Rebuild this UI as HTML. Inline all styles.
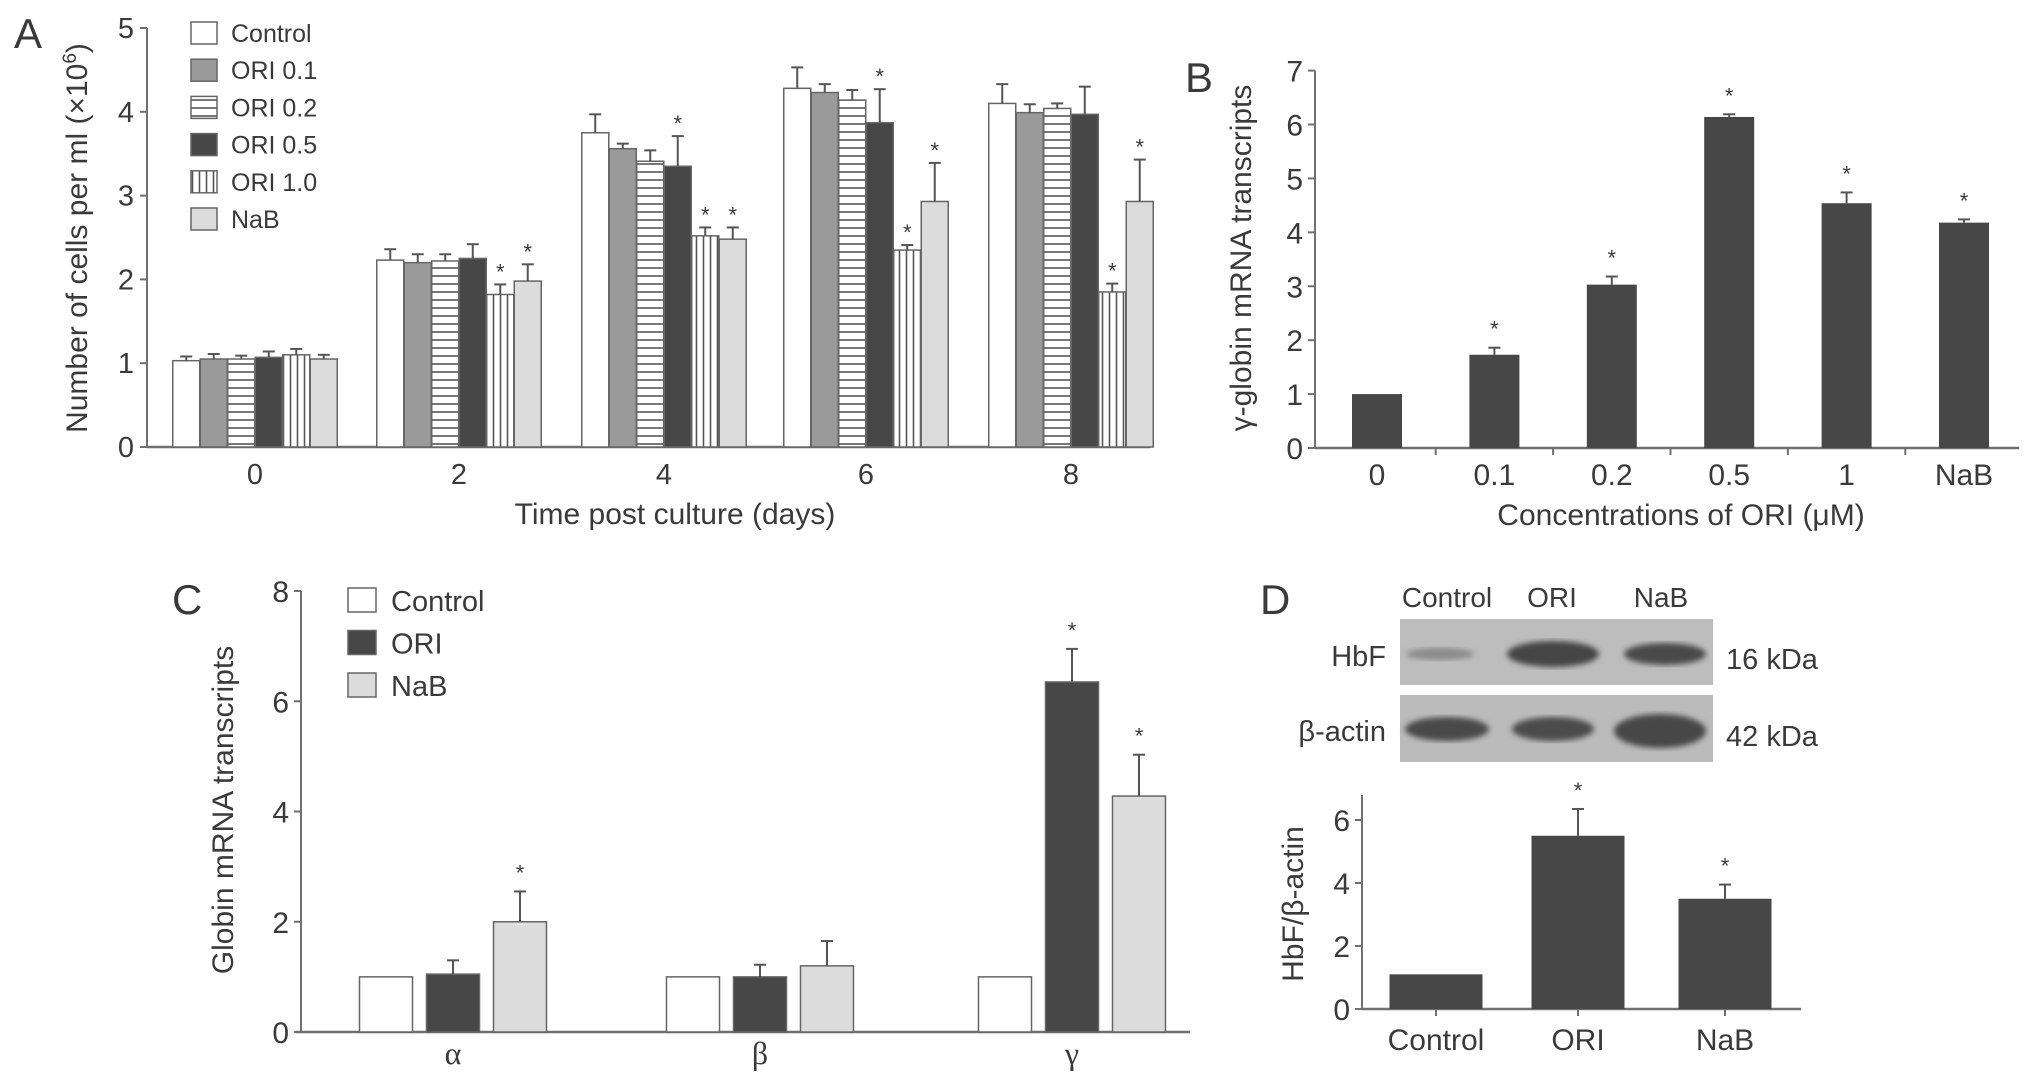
<!DOCTYPE html>
<html><head><meta charset="utf-8"><style>
html,body{margin:0;padding:0;background:#fff;}
svg{display:block;font-family:"Liberation Sans",sans-serif;}
text{fill:#3a3a3a;}
</style></head><body>
<svg id="fig" width="2032" height="1083" viewBox="0 0 2032 1083" xmlns="http://www.w3.org/2000/svg">
<defs>
<pattern id="hstripe" width="8" height="8" patternUnits="userSpaceOnUse"><rect width="8" height="8" fill="#fff"/><line x1="0" y1="4" x2="8" y2="4" stroke="#555" stroke-width="1.6"/></pattern>
<pattern id="vstripe" width="7" height="8" patternUnits="userSpaceOnUse"><rect width="7" height="8" fill="#fff"/><line x1="3.5" y1="0" x2="3.5" y2="8" stroke="#555" stroke-width="1.6"/></pattern>
<filter id="blur3"><feGaussianBlur stdDeviation="3"/></filter>
</defs>
<g id="layer"></g>
</svg>
<script>
// Panel A data
const aCategories = ["0","2","4","6","8"];
const aSeries = ["Control","ORI 0.1","ORI 0.2","ORI 0.5","ORI 1.0","NaB"];
const aValues = [
 [1.03,2.23,3.75,4.28,4.10],
 [1.05,2.20,3.56,4.23,3.99],
 [1.05,2.22,3.41,4.14,4.04],
 [1.07,2.25,3.35,3.87,3.97],
 [1.10,1.82,2.52,2.35,1.85],
 [1.05,1.98,2.48,2.93,2.93]];
const aErrors = [
 [0.05,0.13,0.22,0.25,0.23],
 [0.06,0.10,0.06,0.10,0.10],
 [0.04,0.08,0.13,0.12,0.06],
 [0.07,0.17,0.36,0.40,0.33],
 [0.07,0.12,0.10,0.06,0.10],
 [0.05,0.20,0.14,0.46,0.50]];
const aStars = [
 [0,0,0,0,0],[0,0,0,0,0],[0,0,0,0,0],[0,0,1,1,0],[0,1,1,1,1],[0,1,1,1,1]];
const aTicks = [0,1,2,3,4,5];
// Panel B data
const bCategories = ["0","0.1","0.2","0.5","1","NaB"];
const bValues = [1.0,1.73,3.03,6.14,4.54,4.18];
const bErrors = [0,0.13,0.15,0.05,0.2,0.06];
const bStars = [0,1,1,1,1,1];
const bTicks = [0,1,2,3,4,5,6,7];
// Panel C data
const cCategories = ["α","β","γ"];
const cSeries = ["Control","ORI","NaB"];
const cValues = [[1,1,1],[1.05,1.0,6.35],[2.0,1.2,4.28]];
const cErrors = [[0,0,0],[0.25,0.22,0.6],[0.55,0.45,0.75]];
const cStars = [[0,0,0],[0,0,1],[1,0,1]];
const cTicks = [0,2,4,6,8];
// Panel D data
const dCategories = ["Control","ORI","NaB"];
const dValues = [1.1,5.5,3.5];
const dErrors = [0,0.85,0.45];
const dStars = [0,1,1];
const dTicks = [0,2,4,6];

const NS="http://www.w3.org/2000/svg";
const layer=document.getElementById('layer');
function mk(tag,attrs,parent,txt){const e=document.createElementNS(NS,tag);for(const k in attrs)e.setAttribute(k,attrs[k]);if(txt!==undefined)e.textContent=txt;(parent||layer).appendChild(e);return e;}
const AX="#707070";
function errBar(g,cx,yTop,yErr,cap){
 const l=mk('line',{x1:cx,y1:yTop,x2:cx,y2:yErr,stroke:'#555','stroke-width':2},g);
 
 
 const c=mk('line',{x1:cx-cap,y1:yErr,x2:cx+cap,y2:yErr,stroke:'#555','stroke-width':2},g);
 
 
}
function star(g,cx,y){const s=mk('text',{x:cx,y:y,'font-size':22,'text-anchor':'middle'},g,'*');
 
 }

// ---------- Panel A ----------
(function(){
 const g=mk('g',{});
 const x0=147,y0=447,yTop=28,ppu=(y0-yTop)/5;
 const ys=v=>y0-v*ppu;
 const centers=[255,459,664,866,1071];
 const bw=27, stride=27.5;
 const fills=['#fff','#9a9a9a','url(#hstripe)','#474747','url(#vstripe)','#dcdcdc'];
 mk('text',{x:14,y:48,'font-size':42},g,'A');
 mk('line',{x1:x0,y1:yTop,x2:x0,y2:y0,stroke:AX,'stroke-width':2},g);
 mk('line',{x1:x0,y1:y0,x2:1150,y2:y0,stroke:AX,'stroke-width':2.5},g);
 aTicks.forEach(t=>{const y=ys(t);mk('line',{x1:x0-7,y1:y,x2:x0,y2:y,stroke:AX,'stroke-width':2},g);
  const tl=mk('text',{x:x0-13,y:y+10,'font-size':29,'text-anchor':'end'},g,String(t));
  });
 aCategories.forEach((c,i)=>{
  const tl=mk('text',{x:centers[i],y:484,'font-size':29,'text-anchor':'middle'},g,c);
  
  aSeries.forEach((s,j)=>{
   const bx=centers[i]+(j-2.5)*stride-bw/2;const v=aValues[j][i];
   const r=mk('rect',{x:bx,y:ys(v),width:bw,height:y0-ys(v),fill:fills[j],stroke:'#666','stroke-width':1.5},g);
   
   
   const ye=ys(v+aErrors[j][i]);errBar(g,bx+bw/2,ys(v),ye,6);
   if(aStars[j][i])star(g,bx+bw/2,ye-5);
  });
 });
 mk('text',{x:675,y:524,'font-size':30,'text-anchor':'middle'},g,'Time post culture (days)');
 const yt=mk('text',{x:0,y:0,'font-size':30,'text-anchor':'middle',transform:'translate(87,238) rotate(-90)'},g);
 
 yt.innerHTML='Number of cells per ml (×10<tspan font-size="19" dy="-11">6</tspan><tspan dy="11">)</tspan>';
 aSeries.forEach((s,j)=>{const y=33+j*37.2;
  const b=mk('rect',{x:191,y:y-11,width:26,height:22,fill:fills[j],stroke:'#666','stroke-width':1.5},g);
  
  const t=mk('text',{x:231,y:y+9,'font-size':25},g,s);
  });
})();

// ---------- Panel B ----------
(function(){
 const g=mk('g',{});
 const x0=1315,y0=448,yTop=70.6,ppu=(y0-yTop)/7;const ys=v=>y0-v*ppu;
 const c0=1377,step=117.4,bw=50;
 mk('text',{x:1185,y:92,'font-size':42},g,'B');
 mk('line',{x1:x0,y1:yTop,x2:x0,y2:y0,stroke:AX,'stroke-width':2},g);
 mk('line',{x1:x0,y1:y0,x2:2019,y2:y0,stroke:AX,'stroke-width':2.5},g);
 bTicks.forEach(t=>{const y=ys(t);mk('line',{x1:x0-7,y1:y,x2:x0,y2:y,stroke:AX,'stroke-width':2},g);
  const tl=mk('text',{x:x0-12,y:y+11,'font-size':30,'text-anchor':'end'},g,String(t));
  });
 bCategories.forEach((c,i)=>{const cx=c0+i*step;
  if(i>0)mk('line',{x1:cx-step/2,y1:y0,x2:cx-step/2,y2:y0+7,stroke:AX,'stroke-width':2},g);
  const tl=mk('text',{x:cx,y:485,'font-size':30,'text-anchor':'middle'},g,c);
  
  const v=bValues[i];
  const r=mk('rect',{x:cx-bw/2,y:ys(v),width:bw,height:y0-ys(v),fill:'#474747'},g);
  
  if(bErrors[i]>0){const ye=ys(v+bErrors[i]);errBar(g,cx,ys(v),ye,6);}
  if(bStars[i])star(g,cx,ys(v+bErrors[i])-11);
 });
 mk('text',{x:1681,y:525,'font-size':30,'text-anchor':'middle'},g,'Concentrations of ORI (μM)');
 mk('text',{x:0,y:0,'font-size':30,'text-anchor':'middle',transform:'translate(1251,258) rotate(-90)'},g,'γ-globin mRNA transcripts');
})();

// ---------- Panel C ----------
(function(){
 const g=mk('g',{});
 const x0=301,y0=1032,yTop=591,ppu=(y0-yTop)/8;const ys=v=>y0-v*ppu;
 const centers=[453,760,1072],bw=53,stride=67;
 const fills=['#fff','#474747','#dcdcdc'];
 mk('text',{x:172,y:614,'font-size':42},g,'C');
 mk('line',{x1:x0,y1:yTop,x2:x0,y2:y0,stroke:AX,'stroke-width':2},g);
 mk('line',{x1:x0-5,y1:y0,x2:1190,y2:y0,stroke:AX,'stroke-width':2.5},g);
 cTicks.forEach(t=>{const y=ys(t);mk('line',{x1:x0-7,y1:y,x2:x0,y2:y,stroke:AX,'stroke-width':2},g);
  const tl=mk('text',{x:x0-12,y:y+11,'font-size':30,'text-anchor':'end'},g,String(t));
  });
 cCategories.forEach((c,i)=>{
  const tl=mk('text',{x:centers[i],y:1064,'font-size':32,'text-anchor':'middle','font-family':'"Liberation Serif",serif'},g,c);
  
  cSeries.forEach((s,j)=>{const cx=centers[i]+(j-1)*stride;const v=cValues[j][i];
   const r=mk('rect',{x:cx-bw/2,y:ys(v),width:bw,height:y0-ys(v),fill:fills[j],stroke:'#666','stroke-width':1.5},g);
   
   if(cErrors[j][i]>0){const ye=ys(v+cErrors[j][i]);errBar(g,cx,ys(v),ye,6);}
   if(cStars[j][i])star(g,cx,ys(v+cErrors[j][i])-11);
  });
 });
 cSeries.forEach((s,j)=>{const y=600+j*42.5;
  const b=mk('rect',{x:348,y:y-12,width:28,height:24,fill:fills[j],stroke:'#666','stroke-width':1.5},g);
  
  const t=mk('text',{x:391,y:y+11,'font-size':29},g,s);
  });
 mk('text',{x:0,y:0,'font-size':30,'text-anchor':'middle',transform:'translate(233,810) rotate(-90)'},g,'Globin mRNA transcripts');
})();

// ---------- Panel D ----------
(function(){
 const g=mk('g',{});
 mk('text',{x:1260,y:614,'font-size':42},g,'D');
 [['Control',1447],['ORI',1552],['NaB',1661]].forEach(a=>{const t=mk('text',{x:a[1],y:607,'font-size':28,'text-anchor':'middle'},g,a[0]);
  });
 const b1=mk('rect',{x:1400,y:619,width:313,height:66,fill:'#bdbdbd'},g);
 const b2=mk('rect',{x:1400,y:695,width:313,height:67,fill:'#bbbbbb'},g);
 const bands=[[1440,654,34,6,'#8a8a8a'],[1553,654,46,13,'#454545'],[1665,654,41,11,'#4a4a4a'],
  [1447,729,42,12,'#4a4a4a'],[1553,729,41,12,'#4c4c4c'],[1660,731,46,17,'#474747']];
 bands.forEach(b=>{const e=mk('ellipse',{cx:b[0],cy:b[1],rx:b[2],ry:b[3],fill:b[4],filter:'url(#blur3)'},g);
  });
 mk('text',{x:1386,y:666,'font-size':29,'text-anchor':'end'},g,'HbF');
 mk('text',{x:1386,y:741,'font-size':29,'text-anchor':'end'},g,'β-actin');
 mk('text',{x:1726,y:669,'font-size':29},g,'16 kDa');
 mk('text',{x:1726,y:746,'font-size':29},g,'42 kDa');
 const x0=1362,y0=1009,ppu=(1009-820)/6;const ys=v=>y0-v*ppu;
 const centers=[1436,1578,1725],bw=93;
 mk('line',{x1:x0,y1:795,x2:x0,y2:y0,stroke:AX,'stroke-width':2},g);
 mk('line',{x1:x0,y1:y0,x2:1801,y2:y0,stroke:AX,'stroke-width':2.5},g);
 dTicks.forEach(t=>{const y=ys(t);mk('line',{x1:x0-7,y1:y,x2:x0,y2:y,stroke:AX,'stroke-width':2},g);
  const tl=mk('text',{x:x0-12,y:y+11,'font-size':30,'text-anchor':'end'},g,String(t));
  });
 dCategories.forEach((c,i)=>{const cx=centers[i];const v=dValues[i];
  mk('line',{x1:cx,y1:y0,x2:cx,y2:y0+7,stroke:AX,'stroke-width':2},g);
  const tl=mk('text',{x:cx,y:1050,'font-size':30,'text-anchor':'middle'},g,c);
  
  const r=mk('rect',{x:cx-bw/2,y:ys(v),width:bw,height:y0-ys(v),fill:'#474747'},g);
  
  if(dErrors[i]>0){const ye=ys(v+dErrors[i]);errBar(g,cx,ys(v),ye,6);}
  if(dStars[i])star(g,cx,ys(v+dErrors[i])-11);
 });
 mk('text',{x:0,y:0,'font-size':30,'text-anchor':'middle',transform:'translate(1303,904) rotate(-90)'},g,'HbF/β-actin');
})();
</script>
</body></html>
